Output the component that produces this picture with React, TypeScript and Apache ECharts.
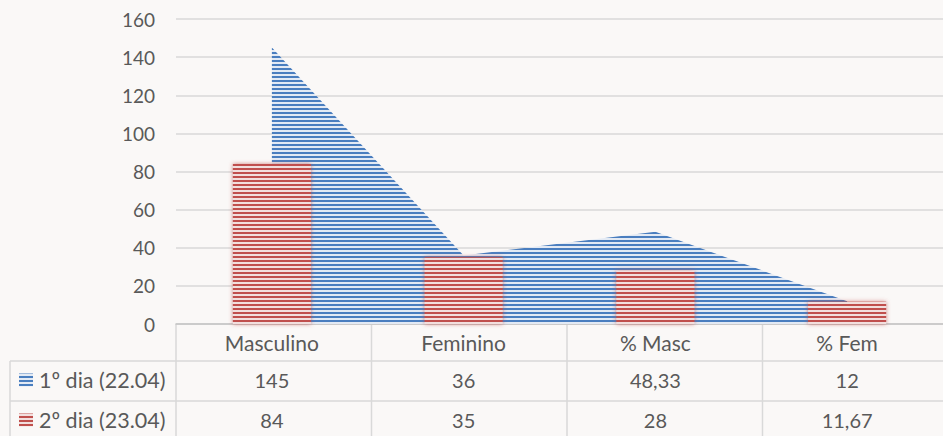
import React, { useEffect, useRef } from "react";
import * as echarts from "echarts";

const categories = ["Masculino", "Feminino", "% Masc", "% Fem"];
const seriesNames = ["1º dia (22.04)", "2º dia (23.04)"];
const day1Values = [145, 36, 48.33, 12];
const day2Values = [84, 35, 28, 11.67];
const yMin = 0;
const yMax = 160;
const yInterval = 20;

const FONT = "Lato";
const TEXT_COLOR = "#595959";
const GRID_COLOR = "#d9d9d9";

function stripes(fg: string, bg: string) {
  const c = document.createElement("canvas");
  c.width = 4;
  c.height = 4;
  const ctx = c.getContext("2d")!;
  ctx.fillStyle = bg;
  ctx.fillRect(0, 0, 4, 4);
  ctx.fillStyle = fg;
  ctx.fillRect(0, 0, 4, 2);
  return { image: c, repeat: "repeat" } as any;
}

const fmt = (v: number) => String(v).replace(".", ",");

export default function App() {
  const ref = useRef<HTMLDivElement>(null);
  useEffect(() => {
    if (!ref.current) return;
    const chart = echarts.init(ref.current, null, { renderer: "svg" });
    const blue = stripes("#4a7ebf", "#e3eaf4");
    const red = stripes("#c0504d", "#f2dfde");
    const gridLeft = 176;
    const gridWidth = 782;
    chart.setOption({
      animation: false,
      backgroundColor: "#faf8f7",
      grid: { left: gridLeft, top: 19, width: gridWidth, height: 305 },
      xAxis: {
        type: "category",
        data: categories,
        axisLabel: { show: false },
        axisTick: { show: false },
        axisLine: { lineStyle: { color: "#c4c4c4", width: 1.5 } },
      },
      yAxis: {
        type: "value",
        min: yMin,
        max: yMax,
        interval: yInterval,
        axisLabel: { color: TEXT_COLOR, fontFamily: FONT, fontSize: 19, margin: 21 },
        axisLine: { show: false },
        axisTick: { show: false },
        splitLine: { lineStyle: { color: GRID_COLOR, width: 1.5 } },
      },
      series: [
        {
          type: "line",
          name: seriesNames[0],
          data: day1Values,
          symbol: "none",
          showSymbol: false,
          lineStyle: { width: 0 },
          areaStyle: { color: blue, opacity: 1 },
          z: 1,
        },
        {
          type: "bar",
          name: seriesNames[1],
          data: day2Values,
          barWidth: 78,
          itemStyle: {
            color: red,
            shadowBlur: 4,
            shadowColor: "rgba(192,80,77,0.7)",
          },
          z: 2,
        },
      ],
    });

    const y0 = chart.convertToPixel({ yAxisIndex: 0 }, 0) as number;
    const colW = gridWidth / categories.length;
    const headerH = 37;
    const rowH = 40;
    const bottom = 480;
    const elems: any[] = [];
    const line = (x1: number, y1: number, x2: number, y2: number) =>
      elems.push({
        type: "line",
        shape: { x1, y1, x2, y2 },
        style: { stroke: GRID_COLOR, lineWidth: 1.5 },
        silent: true,
      });
    for (let k = 0; k <= categories.length; k++) {
      const x = gridLeft + k * colW;
      line(x, y0, x, bottom);
    }
    line(10, y0 + headerH, gridLeft + gridWidth, y0 + headerH);
    line(10, y0 + headerH + rowH, gridLeft + gridWidth, y0 + headerH + rowH);
    line(10, y0 + headerH, 10, bottom);

    const txt = (x: number, y: number, t: string, align: string, size: number) =>
      elems.push({
        type: "text",
        x,
        y,
        style: {
          text: t,
          fill: TEXT_COLOR,
          font: `${size}px ${FONT}`,
          align,
          verticalAlign: "middle",
        },
        silent: true,
      });

    const rows = [day1Values, day2Values];
    categories.forEach((c, i) => {
      const cx = chart.convertToPixel({ xAxisIndex: 0 }, c) as number;
      txt(cx, y0 + headerH / 2, c, "center", 21);
      rows.forEach((vals, r) => {
        txt(cx, y0 + headerH + rowH * r + rowH / 2 - 1, fmt(vals[i]), "center", 20);
      });
    });
    const pats = [blue, red];
    seriesNames.forEach((n, r) => {
      const cy = y0 + headerH + rowH * r + rowH / 2 - 1;
      elems.push({
        type: "rect",
        shape: { x: 19, y: cy - 6.5, width: 14, height: 13 },
        style: { fill: pats[r] },
        silent: true,
      });
      txt(39, cy, n, "left", 21.5);
    });
    chart.setOption({ graphic: elems });

    return () => chart.dispose();
  }, []);
  return (
    <div
      ref={ref}
      style={{ position: "fixed", left: 0, top: 0, width: 943, height: 436 }}
    />
  );
}
